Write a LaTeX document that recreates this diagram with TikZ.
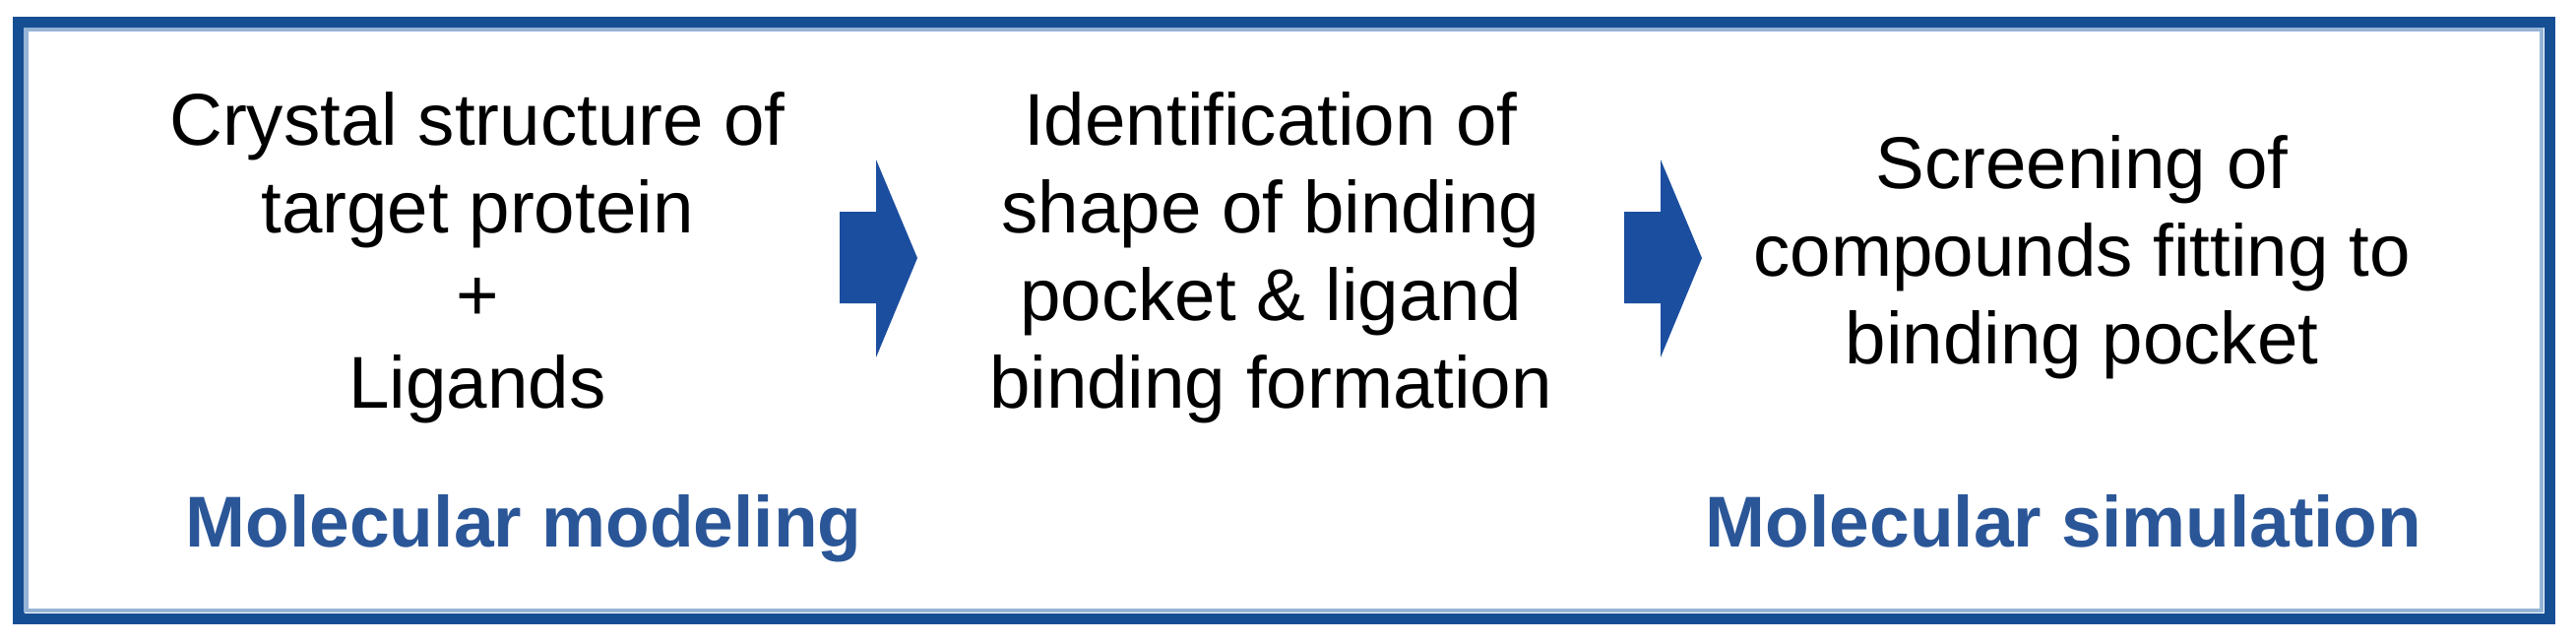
\documentclass[tikz,border=0pt]{standalone}
\usepackage{fontspec}
\setmainfont{Liberation Sans}
\definecolor{frameblue}{RGB}{22,78,148}
\definecolor{framelight}{RGB}{150,180,214}
\definecolor{arrowblue}{RGB}{28,78,160}
\definecolor{labelblue}{RGB}{42,86,152}
\tikzset{
  stepnode/.style={align=center, inner sep=0pt, font=\fontsize{21.2}{25.3}\selectfont},
  phaselabel/.style={anchor=base west, inner sep=0pt, text=labelblue, font=\fontsize{20.8}{25}\selectfont\bfseries},
  blockarrow/.style={fill=arrowblue, draw=none},
}
\begin{document}
\begin{tikzpicture}[x=0.01cm, y=-0.01cm]
   \useasboundingbox (0,0) rectangle (2617,653);
   \draw[frameblue, line width=0.11cm] (19,22) rectangle (2590,628);
   \draw[framelight, line width=0.04cm] (26.5,29.5) rectangle (2582,620);
   \node[stepnode] (crystal) at (485,262) {Crystal structure of\\target protein\\+\\Ligands};
   \node[stepnode] (pocket) at (1291,262) {Identification of\\shape of binding\\pocket \& ligand\\binding formation};
   \node[stepnode] (screening) at (2115,261) {Screening of\\compounds fitting to\\binding pocket};
   \foreach \ax in {853,1650}
     \fill[blockarrow] (\ax,215) -- ++(37,0) -- ++(0,-53) -- ++(42,100) -- ++(-42,101) -- ++(0,-55) -- ++(-37,0) -- cycle;
   \node[phaselabel] (modeling) at (188,555) {Molecular modeling};
   \node[phaselabel] (simulation) at (1732,555) {Molecular simulation};
\end{tikzpicture}
\end{document}
